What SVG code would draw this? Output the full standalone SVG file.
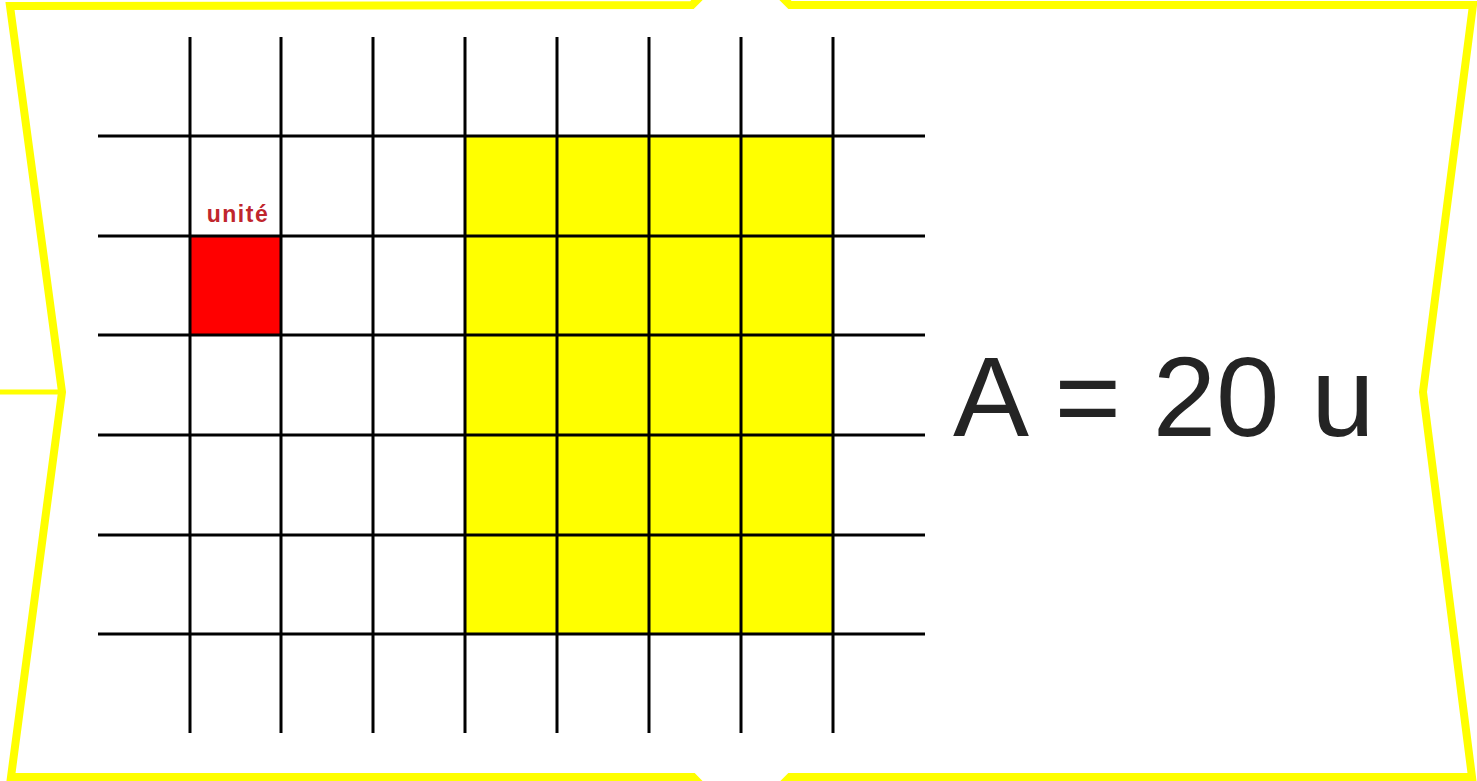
<svg xmlns="http://www.w3.org/2000/svg" width="1477" height="781" viewBox="0 0 1477 781">
<style>
.frame{fill:none;stroke:#ffff00;stroke-width:8;stroke-linejoin:miter}
.grid line{stroke:#000;stroke-width:3}
.lbl{font-family:"Liberation Sans",Arial,sans-serif;font-weight:bold;font-size:23px;fill:#c0262d;letter-spacing:1.5px}
.big{font-family:"Liberation Sans",Arial,sans-serif;font-size:114px;fill:#242424}
</style>
<rect width="1477" height="781" fill="#fff"/>
<g id="frame">
<polygon class="frame" points="10,6 692,5 741,-44 790,5 1473,5 1423,392 1472,777 790,777 741,826 693,777 11,777 62,392"/>
<line x1="0" y1="392" x2="60" y2="392" stroke="#ffff00" stroke-width="5"/>
</g>
<g id="cells">
<rect x="465" y="136" width="368" height="498" fill="#ffff00"/>
<rect x="190" y="236" width="91" height="99" fill="#ff0000"/>
</g>
<g id="grid" class="grid">
<line x1="190" y1="37" x2="190" y2="733"/>
<line x1="281" y1="37" x2="281" y2="733"/>
<line x1="373" y1="37" x2="373" y2="733"/>
<line x1="465" y1="37" x2="465" y2="733"/>
<line x1="557" y1="37" x2="557" y2="733"/>
<line x1="649" y1="37" x2="649" y2="733"/>
<line x1="741" y1="37" x2="741" y2="733"/>
<line x1="833" y1="37" x2="833" y2="733"/>
<line x1="98" y1="136" x2="925" y2="136"/>
<line x1="98" y1="236" x2="925" y2="236"/>
<line x1="98" y1="335" x2="925" y2="335"/>
<line x1="98" y1="435" x2="925" y2="435"/>
<line x1="98" y1="535" x2="925" y2="535"/>
<line x1="98" y1="634" x2="925" y2="634"/>
</g>
<g id="label-unite">
<text class="lbl" x="238" y="222" text-anchor="middle">unité</text>
</g>
<g id="label-area">
<text class="big" x="953" y="436">A = 20 u</text>
</g>
</svg>
